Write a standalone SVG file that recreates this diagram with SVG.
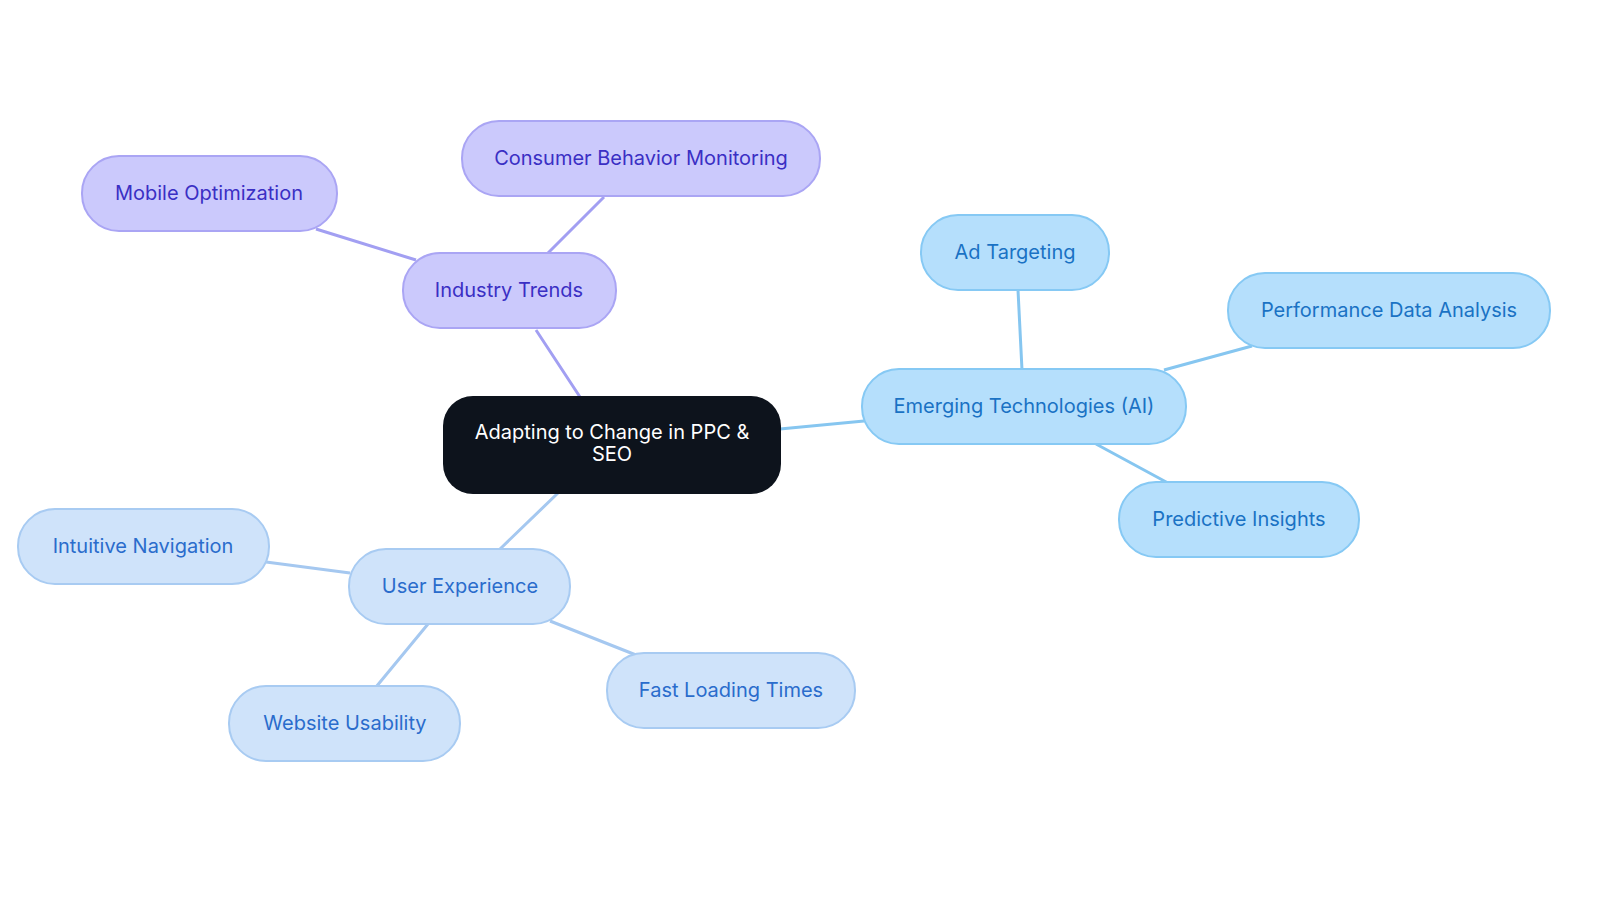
<svg xmlns="http://www.w3.org/2000/svg" width="1600" height="903" viewBox="0 0 1600 903">
<style>
text{font-family:Inter,"Noto Sans",sans-serif;font-size:20px;text-anchor:middle;dominant-baseline:central}
.p rect{fill:#cbc9fc;stroke:#aaa5f4;stroke-width:2}
.p text{fill:#3a2fc4}
.a rect{fill:#b5dffc;stroke:#86c9f4;stroke-width:2}
.a text{fill:#1a72c4}
.u rect{fill:#cfe3fa;stroke:#a8cbf2;stroke-width:2}
.u text{fill:#2a6ccc}
.lp{stroke:#a29ff2;stroke-width:3;fill:none}
.la{stroke:#86c6f0;stroke-width:3;fill:none}
.lu{stroke:#a5c8f0;stroke-width:3;fill:none}
</style>
<rect width="1600" height="903" fill="#fff"/>
<g id="connectors">
<path class="lp" d="M580 397L536 330M548 253L604 197M416 260L316 229"/>
<path class="la" d="M780 429L864 421M1022 370L1018 290M1164 370L1252 346M1096 444L1168 483"/>
<path class="lu" d="M558 493L500 549M350 573L266 562M428 624L376 687M550 621L636 655"/>
</g>
<g id="center"><rect x="443" y="396" width="338" height="98" rx="30" fill="#0d131c"/><text x="612" y="432" fill="#fff">Adapting to Change in PPC &amp;</text><text x="612" y="454" fill="#fff">SEO</text></g>
<g id="industry" class="p"><rect x="403" y="253" width="213" height="75" rx="37"/><text x="509" y="290">Industry Trends</text></g>
<g id="consumer" class="p"><rect x="462" y="121" width="358" height="75" rx="37"/><text x="641" y="158">Consumer Behavior Monitoring</text></g>
<g id="mobile" class="p"><rect x="82" y="156" width="255" height="75" rx="37"/><text x="209" y="193">Mobile Optimization</text></g>
<g id="ai" class="a"><rect x="862" y="369" width="324" height="75" rx="37"/><text x="1024" y="406">Emerging Technologies (AI)</text></g>
<g id="adtarget" class="a"><rect x="921" y="215" width="188" height="75" rx="37"/><text x="1015" y="252">Ad Targeting</text></g>
<g id="perf" class="a"><rect x="1228" y="273" width="322" height="75" rx="37"/><text x="1389" y="310">Performance Data Analysis</text></g>
<g id="predictive" class="a"><rect x="1119" y="482" width="240" height="75" rx="37"/><text x="1239" y="519">Predictive Insights</text></g>
<g id="ux" class="u"><rect x="349" y="549" width="221" height="75" rx="37"/><text x="460" y="586">User Experience</text></g>
<g id="nav" class="u"><rect x="18" y="509" width="251" height="75" rx="37"/><text x="143" y="546">Intuitive Navigation</text></g>
<g id="usability" class="u"><rect x="229" y="686" width="231" height="75" rx="37"/><text x="345" y="723">Website Usability</text></g>
<g id="fast" class="u"><rect x="607" y="653" width="248" height="75" rx="37"/><text x="731" y="690">Fast Loading Times</text></g>
</svg>
